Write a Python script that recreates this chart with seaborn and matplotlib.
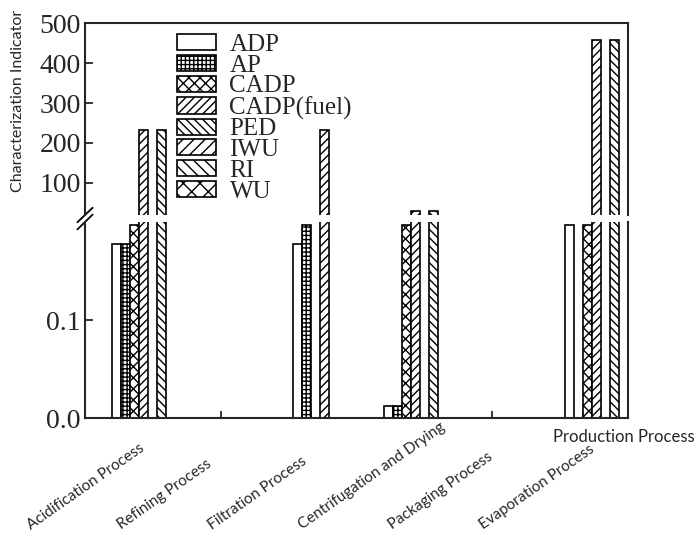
import pandas as pd
import matplotlib.pyplot as plt
import matplotlib.transforms as mtransforms
from matplotlib.patches import Patch
import seaborn as sns

# Procesos (eje x) e indicadores de caracterización
processes = ["Acidification Process", "Refining Process", "Filtration Process",
             "Centrifugation and Drying", "Packaging Process", "Evaporation Process"]
indicators = ["ADP", "AP", "CADP", "CADP(fuel)", "PED", "IWU", "RI", "WU"]

ADP = [0.178, 0.0, 0.178, 0.012, 0.0, 0.197]
AP = [0.178, 0.0, 0.197, 0.012, 0.0, 0.0]
CADP = [0.197, 0.0, 0.0, 0.197, 0.0, 0.197]
CADP_fuel = [232, 0.0, 232, 30, 0.0, 457]
PED = [232, 0.0, 0.0, 30, 0.0, 457]
IWU = [0.0, 0.0, 0.0, 0.0, 0.0, 0.0]
RI = [0.0, 0.0, 0.0, 0.0, 0.0, 0.0]
WU = [0.0, 0.0, 0.0, 0.0, 0.0, 0.0]

hatches = {"ADP": "", "AP": "++++", "CADP": "xxx", "CADP(fuel)": "////",
           "PED": "\\\\\\\\", "IWU": "///", "RI": "\\\\\\", "WU": "xx"}
# orden de las barras dentro de cada grupo
plot_order = ["IWU", "WU", "ADP", "AP", "CADP", "CADP(fuel)", "RI", "PED"]

values = {"ADP": ADP, "AP": AP, "CADP": CADP, "CADP(fuel)": CADP_fuel,
          "PED": PED, "IWU": IWU, "RI": RI, "WU": WU}
data = pd.DataFrame([(p, k, values[k][i]) for k in indicators for i, p in enumerate(processes)],
                    columns=["process", "indicator", "value"])

sns.set_style("ticks")
plt.rcParams["font.family"] = ["Liberation Serif", "DejaVu Serif"]
plt.rcParams["hatch.linewidth"] = 1.0
plt.rcParams["axes.linewidth"] = 1.5

fig = plt.figure(figsize=(6.99, 5.44), dpi=100)
ax_top = fig.add_axes([0.1216, 0.6048, 0.7768, 0.3529])
ax_bot = fig.add_axes([0.1216, 0.2316, 0.7768, 0.3603], sharex=ax_top)

for ax in (ax_top, ax_bot):
    sns.barplot(data=data, x="process", y="value", hue="indicator", order=processes,
                hue_order=plot_order, palette={k: "white" for k in indicators},
                saturation=1, edgecolor="black", linewidth=1.2, width=0.8,
                legend=False, ax=ax)
    for cont, name in zip(ax.containers, plot_order):
        for bar in cont:
            bar.set_hatch(hatches[name])
    ax.set_xlabel("")
    ax.set_ylabel("")
    ax.tick_params(axis="y", direction="in", length=6, width=1.3, labelsize=20, pad=3)

ax_bot.set_xlim(-0.5, len(processes) - 0.5)

ax_top.set_ylim(20, 500)
ax_top.set_yticks([100, 200, 300, 400, 500])
ax_top.spines["bottom"].set_visible(False)
ax_top.tick_params(axis="x", bottom=False, labelbottom=False)

ax_bot.set_ylim(0, 0.2)
ax_bot.set_yticks([0.0, 0.1])
ax_bot.set_yticklabels(["0.0", "0.1"])
ax_bot.spines["top"].set_visible(False)
ax_bot.tick_params(axis="x", direction="in", length=5, width=1.3, pad=0)
ax_bot.set_xticks(range(len(processes)))
ax_bot.set_xticklabels(processes, rotation=35, ha="left", va="bottom",
                       rotation_mode="anchor", fontsize=11, family=["Lato", "DejaVu Sans"])
shift = mtransforms.ScaledTranslation(-0.98, -1.14, fig.dpi_scale_trans)
for lab in ax_bot.get_xticklabels():
    lab.set_transform(lab.get_transform() + shift)

# marcas de corte del eje
d = 0.014
kw = dict(color="black", lw=1.3, clip_on=False)
ax_top.plot([-d, d], [-d * 2.7, d * 2.7], transform=ax_top.transAxes, **kw)
ax_bot.plot([-d, d], [1 - d * 2.7, 1 + d * 2.7], transform=ax_bot.transAxes, **kw)

handles = [Patch(facecolor="white", edgecolor="black", linewidth=1.2,
                 hatch=hatches[k], label=k) for k in indicators]
ax_top.legend(handles=handles, loc="upper left", bbox_to_anchor=(177 / 699, 1 - 34 / 544),
              bbox_transform=fig.transFigure, frameon=False, borderpad=0, borderaxespad=0,
              handlelength=1.55, handleheight=0.62, handletextpad=0.55, labelspacing=-0.05,
              fontsize=18)

fig.text(0.026, 0.814, "Characterization Indicator", rotation=90, ha="center", va="center",
         fontsize=11.5, family=["Lato", "DejaVu Sans"])
fig.text(0.791, 0.197, "Production Process", ha="left", va="center",
         fontsize=12, family=["Lato", "DejaVu Sans"])

fig.savefig("out.png", dpi=100)
